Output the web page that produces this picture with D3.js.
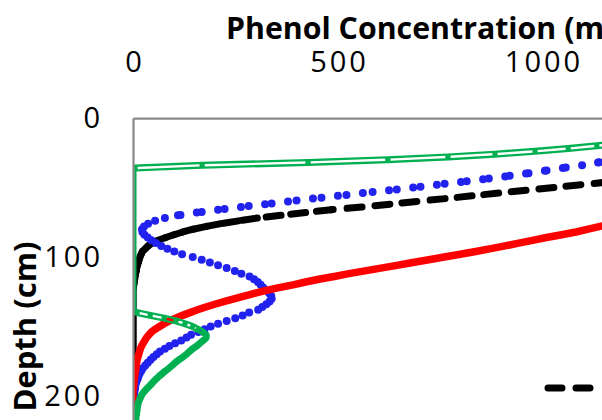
<!DOCTYPE html>
<html>
<head>
<meta charset="utf-8">
<script src="https://cdn.jsdelivr.net/npm/d3@7"></script>
<style>
  body { margin: 0; background: #fff; }
  svg { display: block; }
</style>
</head>
<body>
<svg id="chart" width="602" height="420"></svg>
<script>
// depth grid (cm), one row per 20 cm
var depth = [
  0, 2, 4, 6, 8, 10, 12, 14, 16, 18,
  20, 22, 24, 26, 28, 30, 32, 34, 36, 38,
  40, 42, 44, 46, 48, 50, 52, 54, 56, 58,
  60, 62, 64, 66, 68, 70, 72, 74, 76, 78,
  80, 82, 84, 86, 88, 90, 92, 94, 96, 98,
  100, 102, 104, 106, 108, 110, 112, 114, 116, 118,
  120, 122, 124, 126, 128, 130, 132, 134, 136, 138,
  140, 142, 144, 146, 148, 150, 152, 154, 156, 158,
  160, 162, 164, 166, 168, 170, 172, 174, 176, 178,
  180, 182, 184, 186, 188, 190, 192, 194, 196, 198,
  200, 202, 204, 206, 208, 210, 212, 214, 216, 218,
  220
];

// phenol concentration at each depth (null = outside the picture)
var blackSeries = [
  null, null, null, null, null, null, null, null, null, null,
  null, null, null, null, null, null, null, null, null, null,
  null, null, 1230, 1164, 1095, 1029, 961, 894, 829, 763,
  694, 628, 560, 485, 422, 362, 304, 258, 215, 180,
  147, 122, 100, 80, 62, 46, 37, 30, 23, 20,
  17, 15, 13, 11, 9, 8, 6, 5, 4, 3,
  2, 1, 0, 0, 0, 0, 0, 0, 0, 0,
  0, 0, 0, 0, 0, 0, 0, 0, 0, 0,
  0, 0, 0, 0, 0, 0, 0, 0, 0, 0,
  0, 0, 0, 0, 0, 0, 0, 0, 0, 0,
  0, 0, 0, 0, 0, 0, 0, 0, 0, 0,
  0
];
var blueSeries = [
  null, null, null, null, null, null, null, null, null, null,
  null, null, null, null, null, 1180, 1137, 1098, 1051, 1007,
  961, 910, 856, 802, 743, 685, 626, 562, 501, 440,
  379, 323, 264, 208, 156, 110, 78, 54, 37, 27,
  22, 23, 28, 36, 45, 56, 69, 84, 101, 120,
  146, 168, 188, 208, 229, 249, 265, 285, 296, 305,
  312, 318, 325, 333, 338, 339, 334, 326, 316, 306,
  284, 268, 250, 229, 208, 190, 175, 160, 142, 131,
  118, 103, 89, 78, 66, 58, 50, 43, 36, 30,
  24, 20, 16, 13, 11, 8, 6, 5, 4, 3,
  2, 2, 1, 1, 1, 0, 0, 0, 0, 0,
  0
];
var redSeries = [
  null, null, null, null, null, null, null, null, null, null,
  null, null, null, null, null, null, null, null, null, null,
  null, null, null, null, null, null, null, null, null, null,
  null, null, null, null, null, null, null, 1200, 1172, 1142,
  1113, 1083, 1048, 1011, 977, 943, 910, 875, 838, 800,
  761, 723, 684, 645, 606, 567, 528, 492, 454, 422,
  391, 357, 326, 299, 274, 249, 224, 200, 178, 158,
  139, 121, 104, 89, 76, 65, 54, 45, 39, 33,
  29, 25, 21, 18, 16, 14, 12, 10, 9, 8,
  7, 6, 5, 4, 3, 2, 2, 1, 0, 0,
  0, 0, 0, 0, 0, 0, 0, 0, 0, 0,
  0
];
var greenSeries = [
  null, null, null, null, null, null, null, null, 1240, 1190,
  1134, 1064, 983, 885, 770, 623, 428, 169, 5, 0,
  0, 0, 0, 0, 0, 0, 0, 0, 0, 0,
  0, 0, 0, 0, 0, 0, 0, 0, 0, 0,
  0, 0, 0, 0, 0, 0, 0, 0, 0, 0,
  0, 0, 0, 0, 0, 0, 0, 0, 0, 0,
  0, 0, 0, 0, 0, 0, 0, 0, 0, 0,
  10, 42, 76, 105, 127, 146, 159, 171, 179, 179,
  172, 164, 156, 146, 138, 131, 122, 112, 103, 96,
  88, 79, 71, 63, 56, 49, 43, 36, 30, 24,
  20, 17, 14, 12, 11, 10, 9, 8, 7, 7,
  6
];

var xTicks = [0, 500, 1000, 1500];
var yTicks = [0, 100, 200];

var svg = d3.select("#chart");
var x = d3.scaleLinear().domain([0, 1500]).range([133, 746.5]);
var y = d3.scaleLinear().domain([0, 220]).range([118, 423.8]);

var defs = svg.append("defs");
defs.append("clipPath").attr("id", "plotClip")
  .append("rect").attr("x", 133).attr("y", 118).attr("width", 620).attr("height", 320);

// turn a series into pixel points / single segments
function points(vals) {
  return vals.map(function (v, i) { return v == null ? null : [x(v), y(depth[i])]; });
}
function segments(vals) {
  var p = points(vals), out = [];
  for (var i = 1; i < p.length; i++) {
    if (p[i - 1] && p[i]) out.push([p[i - 1], p[i]]);
  }
  return out;
}
var line = d3.line().defined(function (d) { return d != null; });

var plot = svg.append("g").attr("clip-path", "url(#plotClip)");

// black long dash, pattern restarts on every segment
plot.append("g").selectAll("path")
  .data(segments(blackSeries))
  .join("path")
  .attr("d", function (s) { return d3.line()(s); })
  .attr("fill", "none")
  .attr("stroke", "#000")
  .attr("stroke-width", 7)
  .attr("stroke-linecap", "round")
  .attr("stroke-dasharray", "15,14");

// blue round dots
plot.append("g").selectAll("path")
  .data(segments(blueSeries))
  .join("path")
  .attr("d", function (s) { return d3.line()(s); })
  .attr("fill", "none")
  .attr("stroke", "#2222EE")
  .attr("stroke-width", 8)
  .attr("stroke-linecap", "round")
  .attr("stroke-dasharray", "0,16.5");

// red solid
plot.append("path")
  .attr("d", line(points(redSeries)))
  .attr("fill", "none")
  .attr("stroke", "#FF0000")
  .attr("stroke-width", 7.5)
  .attr("stroke-linejoin", "round");

// green double line: outer stroke minus a hollow core, cut at every data point
var gmask = defs.append("mask").attr("id", "greenMask")
  .attr("maskUnits", "userSpaceOnUse")
  .attr("x", 0).attr("y", 0).attr("width", 800).attr("height", 500);
gmask.append("path")
  .attr("d", line(points(greenSeries)))
  .attr("fill", "none")
  .attr("stroke", "#fff")
  .attr("stroke-width", 7)
  .attr("stroke-linejoin", "round");
var trim = 2.6;
gmask.selectAll("line")
  .data(segments(greenSeries).filter(function (s) {
    return Math.hypot(s[1][0] - s[0][0], s[1][1] - s[0][1]) > 2 * trim;
  }))
  .join("line")
  .each(function (s) {
    var dx = s[1][0] - s[0][0], dy = s[1][1] - s[0][1];
    var L = Math.hypot(dx, dy), ux = dx / L, uy = dy / L;
    d3.select(this)
      .attr("x1", s[0][0] + ux * trim).attr("y1", s[0][1] + uy * trim)
      .attr("x2", s[1][0] - ux * trim).attr("y2", s[1][1] - uy * trim);
  })
  .attr("stroke", "#000")
  .attr("stroke-width", 2.4);
plot.append("rect")
  .attr("x", 0).attr("y", 0).attr("width", 800).attr("height", 500)
  .attr("fill", "#00B050")
  .attr("mask", "url(#greenMask)");

// axes (gray plot border lines, no tick marks)
var xAxis = svg.append("g")
  .attr("transform", "translate(0,118)")
  .call(d3.axisTop(x).tickValues(xTicks).tickFormat(d3.format("d")).tickSize(0).tickPadding(46));
var yAxis = svg.append("g")
  .attr("transform", "translate(133,0)")
  .call(d3.axisLeft(y).tickValues(yTicks).tickFormat(d3.format("d")).tickSize(0).tickPadding(30));

[xAxis, yAxis].forEach(function (g) {
  g.attr("font-family", "'Open Sans', sans-serif").attr("font-size", 29);
  g.select(".domain").attr("stroke", "#898989").attr("stroke-width", 2.25);
  g.selectAll("text").attr("fill", "#000").style("letter-spacing", "3px");
});
xAxis.selectAll("text").attr("dx", 1.5);

// axis titles
svg.append("text")
  .attr("x", 226).attr("y", 38.5)
  .attr("font-family", "'Open Sans', sans-serif")
  .attr("font-weight", "bold")
  .attr("font-size", 30.3)
  .text("Phenol Concentration (mg/L)");

svg.append("text")
  .attr("transform", "translate(36,326.5) rotate(-90)")
  .attr("text-anchor", "middle")
  .attr("font-family", "'Open Sans', sans-serif")
  .attr("font-weight", "bold")
  .attr("font-size", 31)
  .text("Depth (cm)");

// legend sample (rest of legend falls outside the picture)
svg.append("line")
  .attr("x1", 548).attr("x2", 604).attr("y1", 388).attr("y2", 388)
  .attr("stroke", "#000")
  .attr("stroke-width", 7)
  .attr("stroke-linecap", "round")
  .attr("stroke-dasharray", "14,14");
</script>
</body>
</html>
